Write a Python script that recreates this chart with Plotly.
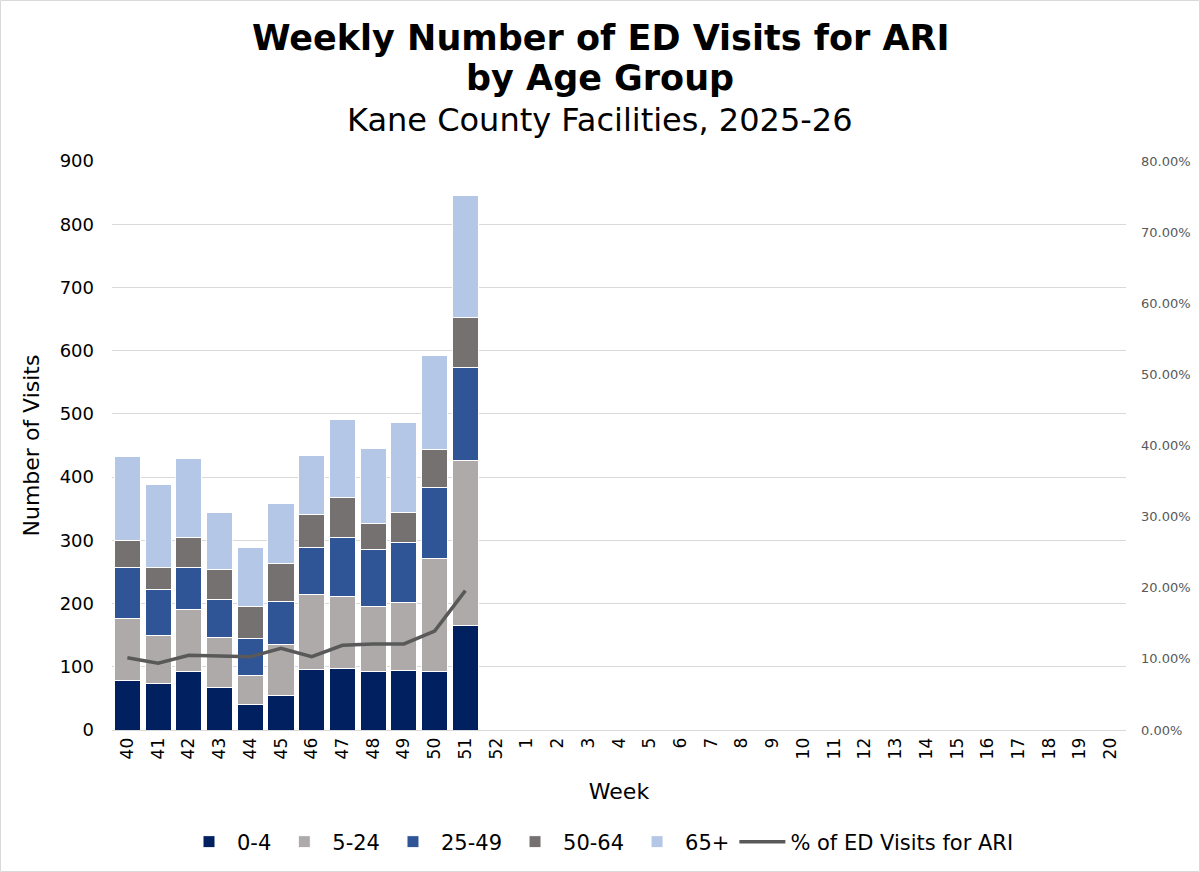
import plotly.graph_objects as go

# weeks on the axis (season 2025-26)
weeks = ["40", "41", "42", "43", "44", "45", "46", "47", "48", "49", "50", "51", "52",
         "1", "2", "3", "4", "5", "6", "7", "8", "9", "10", "11", "12", "13", "14",
         "15", "16", "17", "18", "19", "20"]
data_weeks = weeks[:12]

# visits by age group
age_0_4 = [78, 73, 93, 67, 41, 55, 95, 97, 92, 94, 92, 165]
age_5_24 = [98, 77, 98, 80, 46, 80, 120, 114, 103, 107, 180, 262]
age_25_49 = [81, 73, 66, 60, 57, 69, 73, 93, 90, 95, 112, 146]
age_50_64 = [42, 34, 48, 47, 52, 59, 53, 64, 41, 48, 59, 79]
age_65 = [134, 132, 124, 90, 92, 95, 93, 123, 119, 142, 149, 193]

# % of ED visits for ARI
pct_ari = [0.1017, 0.094, 0.105, 0.104, 0.103, 0.115, 0.103, 0.119, 0.121, 0.121, 0.139, 0.196]

series = [
    ("0-4", age_0_4, "#002060"),
    ("5-24", age_5_24, "#AEAAAA"),
    ("25-49", age_25_49, "#2F5597"),
    ("50-64", age_50_64, "#767171"),
    ("65+", age_65, "#B4C7E7"),
]

fig = go.Figure()

for name, vals, col in series:
    fig.add_trace(go.Bar(
        x=data_weeks, y=vals, name=name,
        marker=dict(color=col, line=dict(color="white", width=1)),
    ))

fig.add_trace(go.Scatter(
    x=data_weeks, y=pct_ari, name="% of ED Visits for ARI",
    mode="lines", line=dict(color="#595959", width=3.5),
    yaxis="y2",
))

FONT = "DejaVu Sans, Verdana, sans-serif"

# plot area box in pixels
L, R, T, B = 112, 74, 161, 142
pw, ph = 1200 - L - R, 872 - T - B

def px_x(x):
    return (x - L) / pw

def px_y(y):
    return (872 - B - y) / ph

titles = [
    ("<b>Weekly Number of ED Visits for ARI</b>", 35, 38),
    ("<b>by Age Group</b>", 35, 78),
    ("Kane County Facilities, 2025-26", 32, 120),
]

fig.update_layout(
    width=1200, height=872,
    barmode="stack", bargap=0.15,
    paper_bgcolor="white", plot_bgcolor="white",
    font=dict(family=FONT, color="#000000"),
    margin=dict(l=L, r=R, t=T, b=B, autoexpand=False),
    annotations=[dict(
        text=t, xref="paper", yref="paper", x=px_x(600), y=px_y(cy),
        xanchor="center", yanchor="middle", showarrow=False,
        font=dict(family=FONT, size=s, color="#000000"),
    ) for t, s, cy in titles],
    xaxis=dict(
        type="category", categoryorder="array", categoryarray=weeks,
        range=[-0.5, len(weeks) - 0.5], automargin=False,
        tickangle=-90, tickfont=dict(size=17, color="#000000"),
        showline=True, linecolor="#D9D9D9", linewidth=1,
        ticks="", showgrid=False,
        title=dict(text="Week", font=dict(size=22), standoff=25),
    ),
    yaxis=dict(
        range=[0, 900], dtick=100, automargin=False,
        tickfont=dict(size=18, color="#000000"),
        gridcolor="#D9D9D9", gridwidth=1, zeroline=False,
        ticklabelstandoff=17,
        title=dict(text="Number of Visits", font=dict(size=22), standoff=13),
    ),
    yaxis2=dict(
        overlaying="y", side="right", range=[0, 0.8], dtick=0.1, automargin=False,
        tickformat=".2%", tickfont=dict(size=13, color="#595959"),
        showgrid=False, zeroline=False, ticklabelstandoff=14,
    ),
    legend=dict(
        orientation="h", x=px_x(600), xanchor="center", y=px_y(842), yanchor="middle",
        font=dict(size=21, color="#000000"), traceorder="normal",
        itemwidth=46,
    ),
    shapes=[dict(
        type="rect", xref="paper", yref="paper",
        x0=px_x(0.5), x1=px_x(1199.5),
        y0=px_y(871.5), y1=px_y(0.5),
        line=dict(color="#D9D9D9", width=1), layer="below",
    )],
)

# drop the page's default body margin so the figure sits at the window's corner
fig.write_html("out.html", config={"displayModeBar": False},
               post_script="document.body.style.margin='0';")
